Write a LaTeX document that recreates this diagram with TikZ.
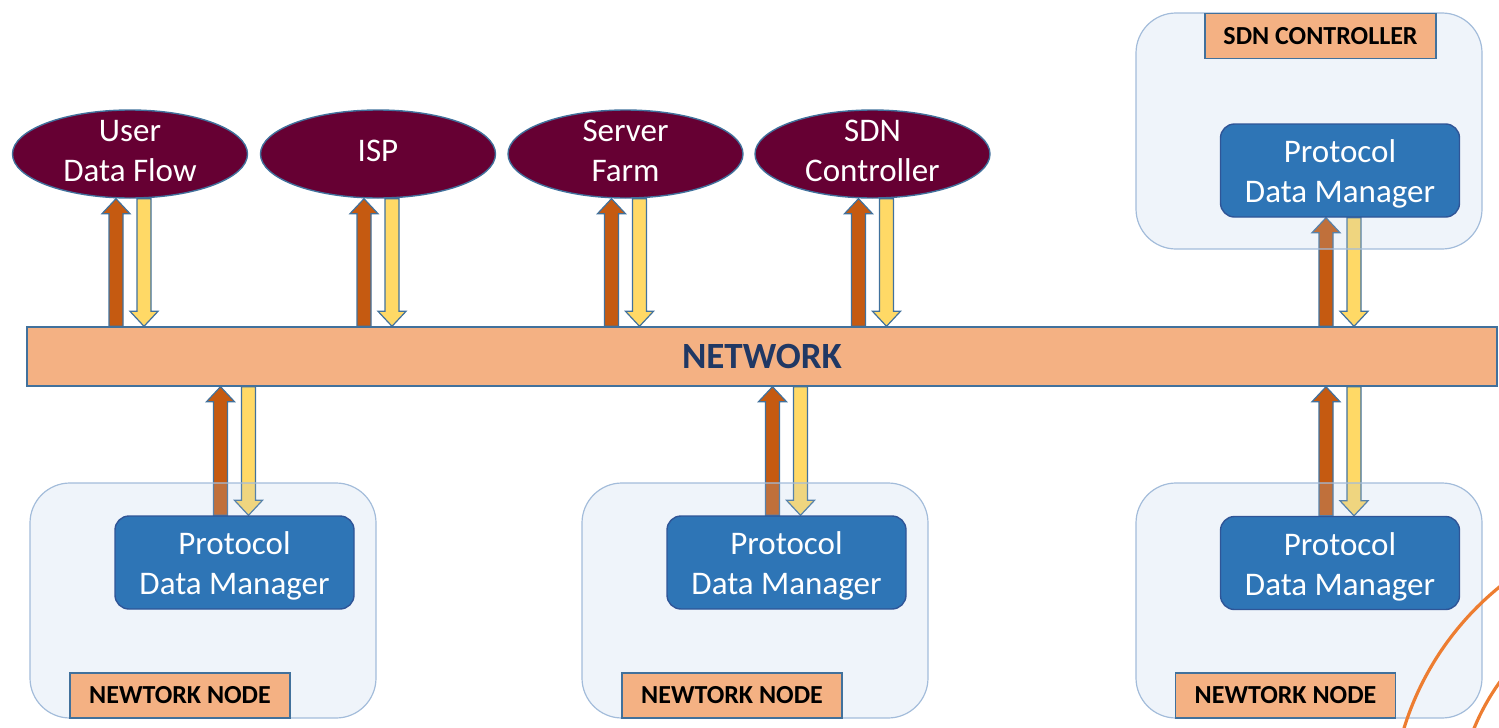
\documentclass[tikz,border=0pt]{standalone}
\usepackage{fontspec}
\setmainfont{Carlito}
\usetikzlibrary{shapes.geometric,calc}
\definecolor{barfill}{HTML}{F4B183}
\definecolor{edgeblue}{HTML}{41719C}
\definecolor{ellfill}{HTML}{660033}
\definecolor{upfill}{HTML}{C55A11}
\definecolor{dnfill}{HTML}{FFD966}
\definecolor{pdmfill}{HTML}{2E75B6}
\definecolor{pdmedge}{HTML}{2F5597}
\definecolor{boxfill}{RGB}{175,200,230}
\definecolor{boxedge}{HTML}{A3BCDA}
\definecolor{netblue}{HTML}{203864}
\definecolor{arcorange}{HTML}{ED7D31}
\pgfdeclarelayer{bg}
\pgfsetlayers{bg,main}
\newcommand\arrpair[3]{%
  \draw[uparrow] let \p0=(#1), \p1=(#2), \p2=(#3) in
    (\x0-10.5pt,\y2) -- (\x0-10.5pt,\y1-7.5pt) -- (\x0-14pt,\y1-7.5pt) -- (\x0-7pt,\y1)
    -- (\x0,\y1-7.5pt) -- (\x0-3.5pt,\y1-7.5pt) -- (\x0-3.5pt,\y2) -- cycle;
  \draw[dnarrow] let \p0=(#1), \p1=(#2), \p2=(#3) in
    (\x0+3.5pt,\y1) -- (\x0+3.5pt,\y2+7.5pt) -- (\x0,\y2+7.5pt) -- (\x0+7pt,\y2)
    -- (\x0+14pt,\y2+7.5pt) -- (\x0+10.5pt,\y2+7.5pt) -- (\x0+10.5pt,\y1) -- cycle;}
\begin{document}
\begin{tikzpicture}[x=0.5pt,y=-0.5pt,
  ell/.style={ellipse,draw=edgeblue,line width=0.7pt,fill=ellfill,
    minimum width=117.5pt,minimum height=44pt,inner sep=0pt},
  elltxt/.style={text=white,align=center,inner sep=0pt,yshift=1.3pt,
    font=\fontsize{16.5}{20}\selectfont},
  bar/.style={draw=edgeblue,line width=0.7pt,fill=barfill,minimum width=735pt,
    minimum height=29.5pt,inner sep=0pt,text=netblue,font=\fontsize{18.5}{22}\selectfont\bfseries},
  pdm/.style={draw=pdmedge,line width=0.7pt,fill=pdmfill,rounded corners=7pt,
    minimum width=119.5pt,minimum height=46.5pt,inner sep=0pt},
  pdmtxt/.style={text=white,align=center,inner sep=0pt,yshift=-1.8pt,
    font=\fontsize{16.5}{20}\selectfont},
  lbox/.style={draw=boxedge,line width=0.6pt,fill=boxfill,fill opacity=0.2,draw opacity=1,
    rounded corners=20pt,minimum width=173pt,inner sep=0pt},
  tag/.style={draw=edgeblue,line width=0.7pt,fill=barfill,minimum height=22.5pt,inner sep=0pt,
    font=\fontsize{13}{15}\selectfont\bfseries},
  uparrow/.style={draw=edgeblue,line width=0.6pt,fill=upfill,line join=miter},
  dnarrow/.style={draw=edgeblue,line width=0.6pt,fill=dnfill,line join=miter},
  arcline/.style={draw=arcorange,line width=1.6pt}]
\useasboundingbox (0,0) rectangle (1499,728);
% light container boxes
\node[lbox,minimum height=118pt] (box0) at (1309,131) {};
\node[lbox,minimum height=117.5pt] (box1) at (203,600.5) {};
\node[lbox,minimum height=117.5pt] (box2) at (755,600.5) {};
\node[lbox,minimum height=117.5pt] (box3) at (1309,600.5) {};
% labels
\node[tag,minimum width=115.5pt] (t0) at (1320.5,36) {SDN CONTROLLER};
\node[tag,minimum width=110pt] (t1) at (180,695.5) {NEWTORK NODE};
\node[tag,minimum width=110pt] (t2) at (732,695.5) {NEWTORK NODE};
\node[tag,minimum width=110pt] (t3) at (1285.5,695.5) {NEWTORK NODE};
% protocol data managers
\node[pdm,label={[pdmtxt]center:{Protocol\\Data Manager}}] (p0) at (1340,170.5) {};
\node[pdm,label={[pdmtxt]center:{Protocol\\Data Manager}}] (p1) at (234.5,562.5) {};
\node[pdm,label={[pdmtxt]center:{Protocol\\Data Manager}}] (p2) at (786.5,562.5) {};
\node[pdm,label={[pdmtxt]center:{Protocol\\Data Manager}}] (p3) at (1340,563) {};
% ellipses
\node[ell,label={[elltxt]center:{User\\Data Flow}}] (e1) at (130,154) {};
\node[ell,label={[elltxt]center:{ISP}}] (e2) at (378,154) {};
\node[ell,label={[elltxt]center:{Server\\Farm}}] (e3) at (625.5,154) {};
\node[ell,label={[elltxt]center:{SDN\\Controller}}] (e4) at (872.5,154) {};
% network bar
\node[bar] (net) at (762,356.5) {NETWORK};
% arrows
\begin{pgfonlayer}{bg}
\arrpair{e1.south}{e1.south}{net.north}
\arrpair{e2.south}{e2.south}{net.north}
\arrpair{e3.south}{e3.south}{net.north}
\arrpair{e4.south}{e4.south}{net.north}
\arrpair{p0.south}{p0.south}{net.north}
\arrpair{p1.north}{net.south}{p1.north}
\arrpair{p2.north}{net.south}{p2.north}
\arrpair{p3.north}{net.south}{p3.north}
\end{pgfonlayer}
% decorative arcs
\begin{scope}
  \clip (0,0) rectangle (1499,728);
  \draw[arcline] (1685,815) circle[radius=147pt];
  \draw[arcline] (1685,815) circle[radius=114pt];
\end{scope}
\end{tikzpicture}
\end{document}
